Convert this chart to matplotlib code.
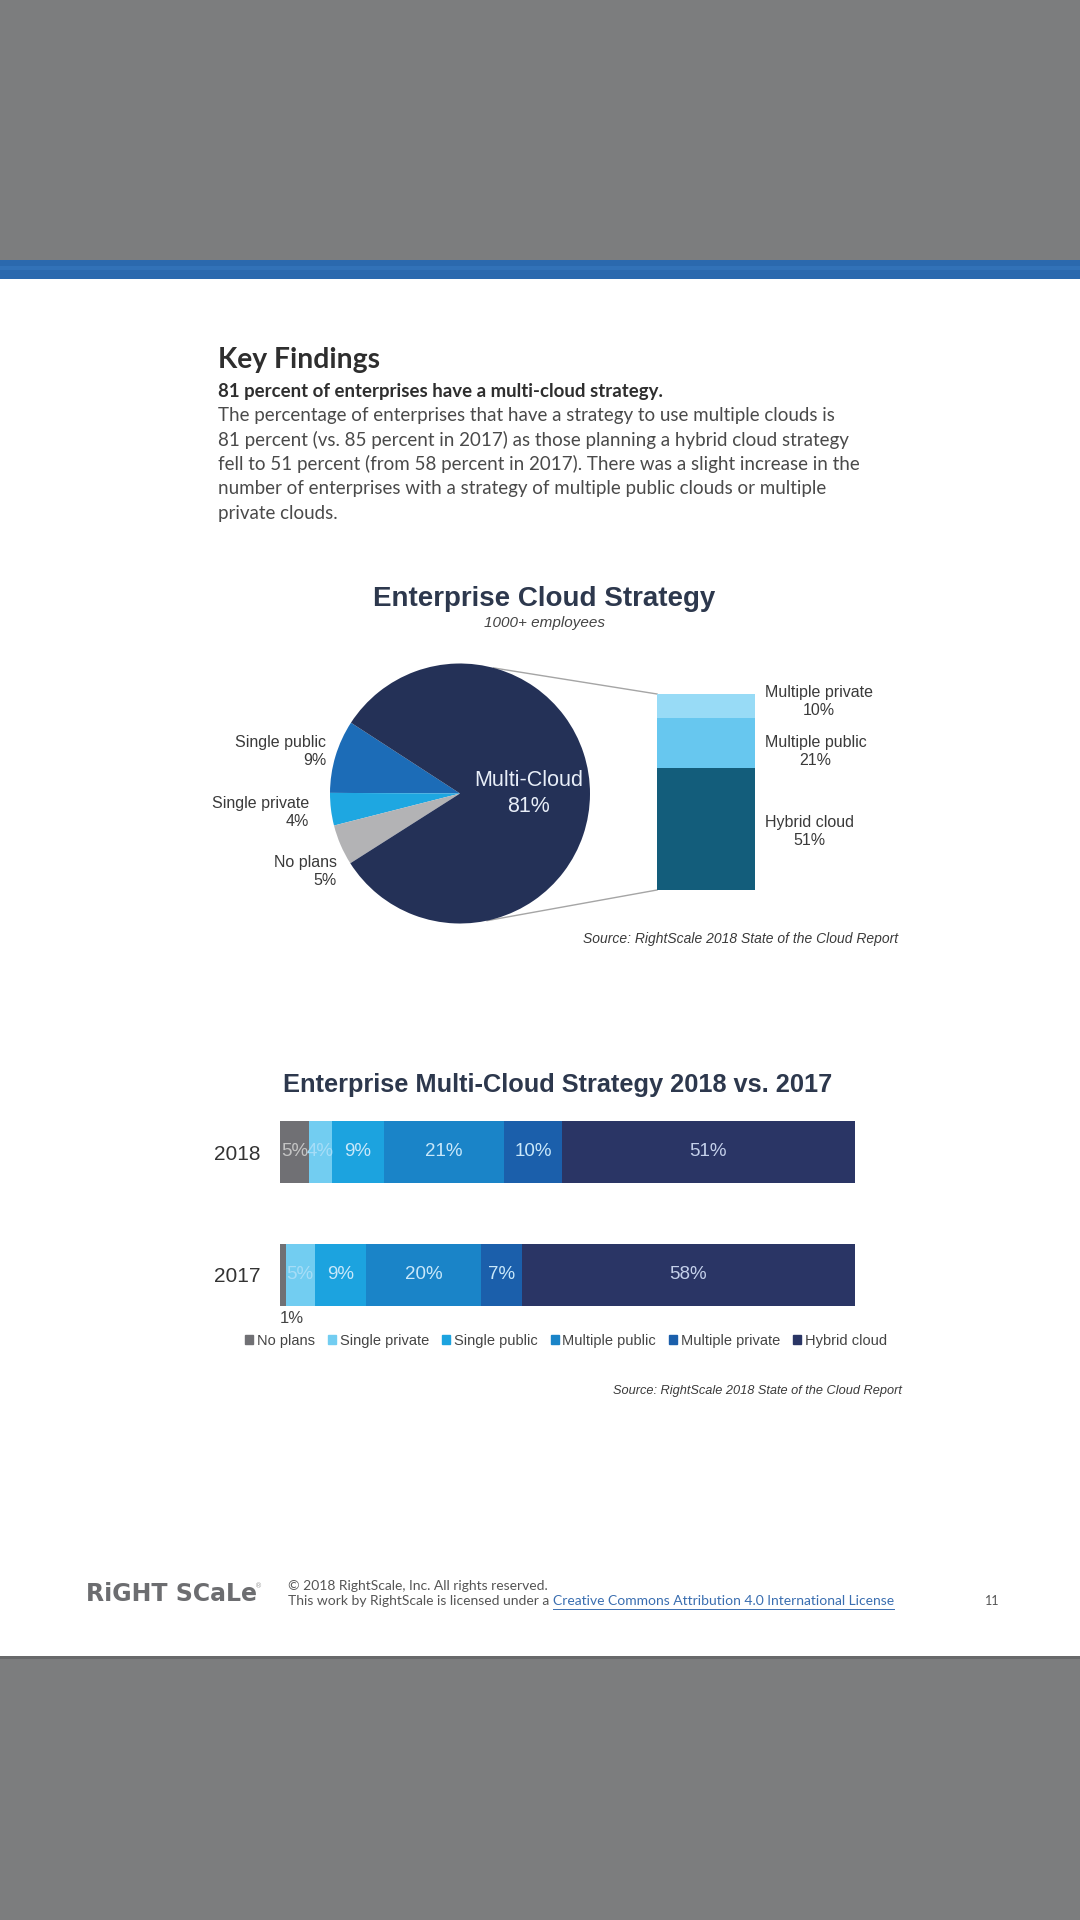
import numpy as np
import matplotlib
matplotlib.use('Agg')
import matplotlib.pyplot as plt
from matplotlib.patches import Patch

# page size in pixels
W, H = 1080, 1920

# pie chart data
pie_labels = ['Single public', 'Single private', 'No plans', 'Multi-Cloud']
pie_values = [9, 4, 5, 81]
pie_colors = ['#1c6cb7', '#1ea7e1', '#b3b3b5', '#243157']

# bar of pie (multi-cloud breakdown)
bop_labels = ['Hybrid cloud', 'Multiple public', 'Multiple private']
bop_values = [51, 21, 10]
bop_colors = ['#135d7b', '#67c7ef', '#98dbf6']

# stacked bars 2018 vs 2017
years = ['2017', '2018']
categories = ['No plans', 'Single private', 'Single public', 'Multiple public', 'Multiple private', 'Hybrid cloud']
values_2018 = [5, 4, 9, 21, 10, 51]
values_2017 = [1, 5, 9, 20, 7, 58]
bar_colors = ['#707074', '#72cdf1', '#1ca3df', '#1a84c8', '#1b5fab', '#2a3565']
bar_label_colors = ['#c4c4c4', '#a6ddf7', '#c9e8fa', '#c9e8fa', '#c9e8fa', '#c4d0ea']

body_lines = [
    "The percentage of enterprises that have a strategy to use multiple clouds is",
    "81 percent (vs. 85 percent in 2017) as those planning a hybrid cloud strategy",
    "fell to 51 percent (from 58 percent in 2017). There was a slight increase in the",
    "number of enterprises with a strategy of multiple public clouds or multiple",
    "private clouds.",
]

chart_font = 'Liberation Sans'
body_font = 'Lato'

fig = plt.figure(figsize=(W / 100, H / 100), dpi=100)


def px_axes(x0, y0, x1, y1):
    # axes from pixel box (top-down y)
    return fig.add_axes([x0 / W, 1 - y1 / H, (x1 - x0) / W, (y1 - y0) / H])


# page background
page = px_axes(0, 0, W, H)
page.set_xlim(0, W)
page.set_ylim(H, 0)
page.axis('off')
page.axhspan(0, 260, color='#7c7d7e', lw=0)
page.axhspan(260, 279, color='#2b69ae', lw=0)
page.axhspan(266, 270, color='#3a7cc2', lw=0, alpha=0.5)
page.axhspan(279, 1656, color='white', lw=0)
page.axhspan(1656, 1659, color='#68696a', lw=0)
page.axhspan(1659, H, color='#7c7d7e', lw=0)

# key findings text
page.text(218, 360, 'Key Findings', fontsize=20.3, fontweight='bold', family=body_font,
          color='#2e2e2e', va='center')
page.text(218, 391, '81 percent of enterprises have a multi-cloud strategy.', fontsize=13.4,
          fontweight='bold', family=body_font, color='#2e2e2e', va='center')
for i, line in enumerate(body_lines):
    page.text(218, 415 + i * 24.5, line, fontsize=13.5, family=body_font, color='#4a4a4a', va='center')

# ---- pie chart ----
pcx, pcy, pr = 460, 793.5, 130
page.text(544, 599, 'Enterprise Cloud Strategy', fontsize=20, fontweight='bold', family=chart_font,
          color='#2d384d', ha='center', va='center')
page.text(544, 623, '1000+ employees', fontsize=11, style='italic', family=chart_font,
          color='#444444', ha='center', va='center')

ax_pie = px_axes(pcx - pr, pcy - pr, pcx + pr, pcy + pr)
wedges, _ = ax_pie.pie(pie_values, colors=pie_colors, startangle=147, counterclock=True,
                       radius=1, wedgeprops=dict(linewidth=0))
ax_pie.set_xlim(-1, 1)
ax_pie.set_ylim(-1, 1)
ax_pie.set_aspect('equal')
ax_pie.axis('off')

label_xy = [(-1.03, 0.32), (-1.16, -0.145), (-0.95, -0.60)]
for (lx, ly), name, v in zip(label_xy, pie_labels[:3], pie_values[:3]):
    ax_pie.text(lx, ly, f'{name}\n{v}%', ha='right', va='center', multialignment='right',
                fontsize=11.5, family=chart_font, color='#3a3a3a', linespacing=1.25)
ax_pie.text(0.53, 0.0, f'{pie_labels[3]}\n{pie_values[3]}%', ha='center', va='center',
            fontsize=15.5, family=chart_font, color='#e8eef8', linespacing=1.3)

# bar of pie
bx0, by0, bx1, by1 = 657, 694, 755, 890
ax_bop = px_axes(bx0, by0, bx1, by1)
label_dy = [-2, -6, 3]  # points, nudges label blocks apart
bottom = 0
for name, v, c, dy in zip(bop_labels, bop_values, bop_colors, label_dy):
    ax_bop.bar(0, v, bottom=bottom, width=1, color=c, lw=0)
    ax_bop.annotate(f'{name}\n{v}%', (0.5, bottom + v / 2), xytext=(7, dy), textcoords='offset points',
                    ha='left', va='center', multialignment='center', fontsize=11.5,
                    family=chart_font, color='#3a3a3a', linespacing=1.25, annotation_clip=False)
    bottom += v
ax_bop.set_xlim(-0.5, 0.5)
ax_bop.set_ylim(0, bottom)
ax_bop.axis('off')

# connector lines from pie to bar
a_top, a_bot = np.deg2rad(75), np.deg2rad(-78)
page.plot([pcx + pr * np.cos(a_top), bx0], [pcy - pr * np.sin(a_top), by0], color='#a5a5a5', lw=1)
page.plot([pcx + pr * np.cos(a_bot), bx0], [pcy - pr * np.sin(a_bot), by1], color='#a5a5a5', lw=1)

page.text(898, 939, 'Source: RightScale 2018 State of the Cloud Report', fontsize=10, style='italic',
          family=chart_font, color='#3a3a3a', ha='right', va='center')

# ---- stacked bars ----
page.text(558, 1085, 'Enterprise Multi-Cloud Strategy 2018 vs. 2017', fontsize=18.3, fontweight='bold',
          family=chart_font, color='#2d384d', ha='center', va='center')

step = 122.5
ax_bar = px_axes(280, 1152 - 0.8 * step, 855, 1274.5 + 0.8 * step)
bar_h = 62 / step
for yi, vals in enumerate([values_2017, values_2018]):
    left = 0
    for ci, v in enumerate(vals):
        ax_bar.barh(yi, v, left=left, height=bar_h, color=bar_colors[ci], lw=0)
        if v >= 3:
            ax_bar.text(left + v / 2, yi, f'{v}%', ha='center', va='center', fontsize=13.5,
                        family=chart_font, color=bar_label_colors[ci])
        else:
            ax_bar.text(left, yi - bar_h / 2 - 0.105, f'{v}%', ha='left', va='center', fontsize=12,
                        family=chart_font, color='#444444')
        left += v
ax_bar.set_xlim(0, 100)
ax_bar.set_ylim(-0.8, 1.8)
ax_bar.set_yticks([0, 1], years)
ax_bar.set_xticks([])
ax_bar.tick_params(axis='y', length=0, pad=14, labelsize=15, labelcolor='#333333')
for lab in ax_bar.get_yticklabels():
    lab.set_family(chart_font)
for s in ax_bar.spines.values():
    s.set_visible(False)
ax_bar.patch.set_alpha(0)

handles = [Patch(color=c, label=n) for n, c in zip(categories, bar_colors)]
fig.legend(handles=handles, loc='center', bbox_to_anchor=(566 / W, 1 - 1341 / H), ncol=6,
           frameon=False, handlelength=0.55, handleheight=0.55, handletextpad=0.25,
           columnspacing=0.9, prop={'family': chart_font, 'size': 10.5}, labelcolor='#444444')

page.text(902, 1391, 'Source: RightScale 2018 State of the Cloud Report', fontsize=9.2, style='italic',
          family=chart_font, color='#3a3a3a', ha='right', va='center')

# ---- footer ----
page.text(86, 1594, 'RiGHT SCaLe', fontsize=17, fontweight='bold', family='DejaVu Sans',
          color='#6c6d70', va='center')
page.text(255, 1586, '®', fontsize=5, color='#9a9a9a', va='center')
page.text(288, 1586, '© 2018 RightScale, Inc. All rights reserved.', fontsize=10, family=body_font,
          color='#555555', va='center')
t1 = page.text(288, 1601, 'This work by RightScale is licensed under a ', fontsize=10, family=body_font,
               color='#555555', va='center')
renderer = fig.canvas.get_renderer()
bb = t1.get_window_extent(renderer)
x_link = bb.x1
t2 = page.text(x_link, 1601, 'Creative Commons Attribution 4.0 International License', fontsize=10,
               family=body_font, color='#3a6eb0', va='center')
bb2 = t2.get_window_extent(renderer)
page.plot([bb2.x0, bb2.x1], [1609, 1609], color='#3a6eb0', lw=0.7)
page.text(992, 1601, '11', fontsize=9, family=body_font, color='#555555', va='center', ha='center')

fig.savefig('out.png', dpi=100)
